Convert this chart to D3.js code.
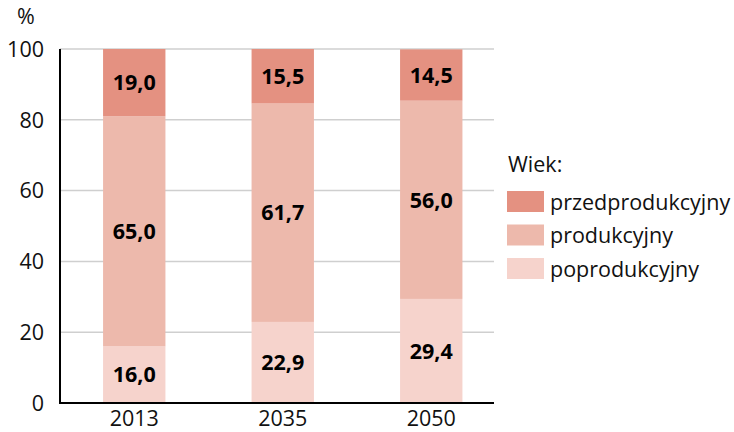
<!DOCTYPE html>
<html>
<head>
<meta charset="utf-8">
<script src="https://cdn.jsdelivr.net/npm/d3@7"></script>
<style>
  body { margin: 0; background: #fff; }
  svg text { font-family: "Open Sans", "Noto Sans", sans-serif; }
</style>
</head>
<body>
<svg id="chart" width="734" height="432"></svg>
<script>
// data
const years = ["2013", "2035", "2050"];
const groups = ["poprodukcyjny", "produkcyjny", "przedprodukcyjny"];
const poprodukcyjny = [16.0, 22.9, 29.4];
const produkcyjny = [65.0, 61.7, 56.0];
const przedprodukcyjny = [19.0, 15.5, 14.5];
const yTicks = [0, 20, 40, 60, 80, 100];
const legendOrder = ["przedprodukcyjny", "produkcyjny", "poprodukcyjny"];

const colors = {
  przedprodukcyjny: "#e49181",
  produkcyjny: "#edb9ac",
  poprodukcyjny: "#f6d3cc"
};

const rows = years.map((y, i) => ({
  year: y,
  poprodukcyjny: poprodukcyjny[i],
  produkcyjny: produkcyjny[i],
  przedprodukcyjny: przedprodukcyjny[i]
}));

const svg = d3.select("#chart");
const plotLeft = 60, plotRight = 494, plotTop = 49, plotBottom = 403;
const fontSize = 21.5;

const x = d3.scaleBand().domain(years).range([plotLeft, 505.5]).paddingInner(0.58).paddingOuter(0.29);
const y = d3.scaleLinear().domain([0, 100]).range([plotBottom, plotTop]);

// gridlines
svg.append("g")
  .selectAll("line")
  .data(yTicks.filter(d => d > 0))
  .enter()
  .append("line")
  .attr("x1", plotLeft)
  .attr("x2", plotRight)
  .attr("y1", d => y(d))
  .attr("y2", d => y(d))
  .attr("stroke", "#cfcfcf")
  .attr("stroke-width", 1.5);

const stack = d3.stack().keys(groups);
const series = stack(rows);

const layer = svg.append("g")
  .selectAll("g")
  .data(series)
  .enter()
  .append("g")
  .attr("fill", d => colors[d.key]);

layer.selectAll("rect")
  .data(d => d)
  .enter()
  .append("rect")
  .attr("x", d => x(d.data.year))
  .attr("width", x.bandwidth())
  .attr("y", d => y(Math.min(d[1], 100)))
  .attr("height", d => y(d[0]) - y(Math.min(d[1], 100)));

// value labels
layer.selectAll("text")
  .data(d => d)
  .enter()
  .append("text")
  .attr("x", d => x(d.data.year) + x.bandwidth() / 2)
  .attr("y", d => (y(d[0]) + y(Math.min(d[1], 100))) / 2)
  .attr("dy", "0.36em")
  .attr("text-anchor", "middle")
  .attr("fill", "#000")
  .attr("font-weight", "bold")
  .attr("font-size", fontSize)
  .text(d => d3.format(".1f")(d[1] - d[0]).replace(".", ","));

// axes
svg.append("line")
  .attr("x1", plotLeft).attr("x2", plotLeft)
  .attr("y1", plotTop).attr("y2", plotBottom + 1)
  .attr("stroke", "#000").attr("stroke-width", 2);
svg.append("line")
  .attr("x1", plotLeft - 1).attr("x2", plotRight)
  .attr("y1", plotBottom).attr("y2", plotBottom)
  .attr("stroke", "#000").attr("stroke-width", 2);

svg.append("g")
  .selectAll("text")
  .data(yTicks)
  .enter()
  .append("text")
  .attr("x", 44)
  .attr("y", d => y(d))
  .attr("dy", "0.36em")
  .attr("text-anchor", "end")
  .attr("font-size", fontSize)
  .attr("fill", "#111")
  .text(d => d);

svg.append("text")
  .attr("x", 17).attr("y", 24)
  .attr("font-size", fontSize)
  .attr("fill", "#111")
  .text("%");

svg.append("g")
  .selectAll("text")
  .data(years)
  .enter()
  .append("text")
  .attr("x", d => x(d) + x.bandwidth() / 2)
  .attr("y", 426)
  .attr("text-anchor", "middle")
  .attr("font-size", fontSize)
  .attr("fill", "#111")
  .text(d => d);

// legend
const legend = svg.append("g").attr("transform", "translate(507,0)");
legend.append("text")
  .attr("x", 1).attr("y", 172)
  .attr("font-size", fontSize)
  .attr("fill", "#111")
  .text("Wiek:");

const item = legend.selectAll("g.item")
  .data(legendOrder)
  .enter()
  .append("g")
  .attr("class", "item")
  .attr("transform", (d, i) => `translate(0,${191 + i * 33.5})`);

item.append("rect")
  .attr("width", 37)
  .attr("height", 21)
  .attr("fill", d => colors[d]);

item.append("text")
  .attr("x", 43)
  .attr("y", 11)
  .attr("dy", "0.36em")
  .attr("font-size", fontSize)
  .attr("fill", "#111")
  .text(d => d);
</script>
</body>
</html>
